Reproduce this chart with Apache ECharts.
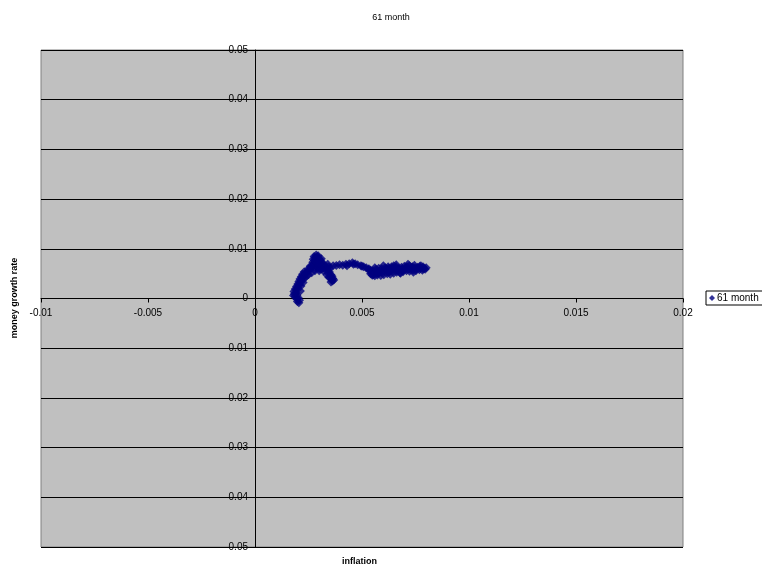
<!DOCTYPE html>
<html>
<head>
<meta charset="utf-8">
<script src="https://cdn.jsdelivr.net/npm/echarts@6/dist/echarts.min.js"></script>
<style>
html,body{margin:0;padding:0;background:#fff;}
#chart{width:762px;height:570px;}
</style>
</head>
<body>
<div id="chart"></div>
<script>
const seriesName = "61 month";
const inflation = [
0.00205,0.00198,0.00208,0.00195,0.00202,0.00188,0.00196,0.00184,0.00192,0.00182,
0.00195,0.00188,0.00200,0.00194,0.00206,0.00200,0.00212,0.00205,0.00218,0.00210,
0.00222,0.00216,0.00228,0.00222,0.00235,0.00230,0.00245,0.00255,0.00250,0.00262,
0.00270,0.00268,0.00275,0.00270,0.00278,0.00272,0.00282,0.00276,0.00286,0.00295,
0.00290,0.00300,0.00305,0.00298,0.00312,0.00320,0.00315,0.00328,0.00335,0.00330,
0.00342,0.00348,0.00343,0.00355,0.00360,0.00352,0.00364,0.00358,
0.00290,0.00305,0.00320,0.00300,0.00285,0.00310,
0.00345,0.00365,0.00380,
0.00250,0.00265,0.00280,0.00300,0.00320,0.00335,0.00345,0.00240,0.00230,0.00215,
0.00180,0.00212,0.00225,0.00238,0.00258,0.00290,0.00310,0.00340,0.00350,0.00300,
0.00395,0.00410,0.00425,0.00440,0.00455,0.00468,0.00480,0.00495,0.00508,0.00520,
0.00532,0.00540,0.00548,0.00545,0.00552,0.00560,0.00570,0.00580,0.00592,0.00605,
0.00615,0.00625,0.00638,0.00648,0.00660,0.00672,0.00685,0.00698,0.00710,0.00722,
0.00735,0.00748,0.00760,0.00772,0.00785,0.00795,0.00782,0.00768,0.00752,0.00738,
0.00722,0.00708,0.00692,0.00678,0.00662,0.00648,0.00632,0.00618,0.00602,0.00588,
0.00572,0.00560,0.00548,0.00540,0.00552,0.00565,0.00578,0.00592,0.00608,0.00622,
0.00640,0.00655,0.00670,0.00688,0.00705,0.00720,0.00738,0.00755,0.00770,0.00785,
0.00800,0.00790,
0.00430,0.00460,0.00500,0.00530,0.00575,0.00600,0.00630,0.00660,0.00690,0.00715,
0.00745,0.00775,0.00560,0.00620,0.00680,0.00740,
0.00362,0.00355,0.00368
];
const moneyGrowth = [
-0.00085,-0.00060,-0.00035,-0.00010,0.00015,0.00040,0.00065,0.00090,0.00115,0.00140,
0.00165,0.00190,0.00215,0.00240,0.00265,0.00290,0.00315,0.00340,0.00365,0.00390,
0.00415,0.00440,0.00465,0.00490,0.00510,0.00540,0.00555,0.00570,0.00600,0.00620,
0.00640,0.00670,0.00700,0.00730,0.00760,0.00790,0.00815,0.00845,0.00875,0.00860,
0.00830,0.00800,0.00770,0.00745,0.00725,0.00700,0.00670,0.00650,0.00620,0.00590,
0.00565,0.00535,0.00505,0.00480,0.00450,0.00425,0.00400,0.00380,
0.00640,0.00660,0.00620,0.00600,0.00610,0.00590,
0.00640,0.00660,0.00665,
0.00480,0.00520,0.00560,0.00560,0.00560,0.00480,0.00430,0.00450,0.00400,0.00250,
0.00060,0.00150,0.00320,0.00500,0.00650,0.00720,0.00800,0.00690,0.00610,0.00700,
0.00680,0.00670,0.00690,0.00700,0.00720,0.00700,0.00680,0.00660,0.00640,0.00620,
0.00600,0.00570,0.00540,0.00510,0.00480,0.00500,0.00530,0.00550,0.00530,0.00560,
0.00590,0.00610,0.00640,0.00660,0.00640,0.00610,0.00630,0.00650,0.00640,0.00660,
0.00640,0.00620,0.00630,0.00610,0.00600,0.00590,0.00570,0.00580,0.00560,0.00570,
0.00550,0.00560,0.00540,0.00520,0.00530,0.00510,0.00490,0.00500,0.00480,0.00465,
0.00475,0.00460,0.00470,0.00500,0.00560,0.00590,0.00610,0.00600,0.00620,0.00640,
0.00600,0.00580,0.00570,0.00590,0.00610,0.00600,0.00610,0.00600,0.00650,0.00640,
0.00620,0.00610,
0.00660,0.00690,0.00650,0.00580,0.00510,0.00660,0.00540,0.00680,0.00560,0.00690,
0.00670,0.00660,0.00620,0.00550,0.00510,0.00530,
0.00350,0.00330,0.00370
];
const xTicks = { min: -0.01, max: 0.02, interval: 0.005 };
const yTicks = { min: -0.05, max: 0.05, interval: 0.01 };

const points = inflation.map((v, i) => [v, moneyGrowth[i]]);
const font = "Liberation Sans, Arial, sans-serif";

const chart = echarts.init(document.getElementById('chart'), null, { renderer: 'canvas' });
chart.setOption({
  animation: false,
  backgroundColor: '#ffffff',
  title: {
    text: "61 month",
    left: 386, top: 8, textAlign: 'center',
    textStyle: { fontFamily: font, fontSize: 9, fontWeight: 'normal', color: '#000' }
  },
  legend: {
    left: 706, top: 291,
    orient: 'vertical',
    backgroundColor: '#fff',
    borderColor: '#000', borderWidth: 1, borderRadius: 0,
    padding: [2, 8, 2, 3],
    itemWidth: 6, itemHeight: 6, itemGap: 2,
    textStyle: { fontFamily: font, fontSize: 10, color: '#000', padding: [0, 0, 0, -3] },
    data: [{ name: seriesName, icon: 'diamond' }]
  },
  grid: {
    left: 41, right: 79, top: 50, bottom: 23,
    show: true, backgroundColor: '#c0c0c0', borderColor: '#808080', borderWidth: 1
  },
  xAxis: {
    type: 'value', position: 'bottom', offset: -248.5,
    min: xTicks.min, max: xTicks.max, interval: xTicks.interval,
    axisLine: { show: true, onZero: false, lineStyle: { color: '#000', width: 1 } },
    axisTick: { show: true, length: 4, lineStyle: { color: '#000' } },
    axisLabel: { fontFamily: font, fontSize: 10, color: '#000', margin: 10,
      formatter: v => String(Math.round(v * 1000) / 1000) },
    splitLine: { show: false }
  },
  yAxis: {
    type: 'value', position: 'left', offset: -214,
    min: yTicks.min, max: yTicks.max, interval: yTicks.interval,
    axisLine: { show: true, onZero: false, lineStyle: { color: '#000', width: 1 } },
    axisTick: { show: true, length: 4, lineStyle: { color: '#000' } },
    axisLabel: { fontFamily: font, fontSize: 10, color: '#000', margin: 7,
      formatter: v => String(Math.round(v * 100) / 100) },
    splitLine: { show: true, lineStyle: { color: '#000', width: 1 } }
  },
  graphic: [
    { type: 'text', left: 342, top: 557,
      style: { text: 'inflation', font: 'bold 9px ' + font, fill: '#000' } },
    { type: 'text', x: 15, y: 298, rotation: Math.PI / 2,
      style: { text: 'money growth rate', font: 'bold 9px ' + font, fill: '#000', align: 'center', verticalAlign: 'middle' } }
  ],
  series: [{
    name: seriesName,
    type: 'scatter',
    symbol: 'diamond',
    symbolSize: 9,
    itemStyle: { color: '#000080' },
    data: points
  }]
});
</script>
</body>
</html>
